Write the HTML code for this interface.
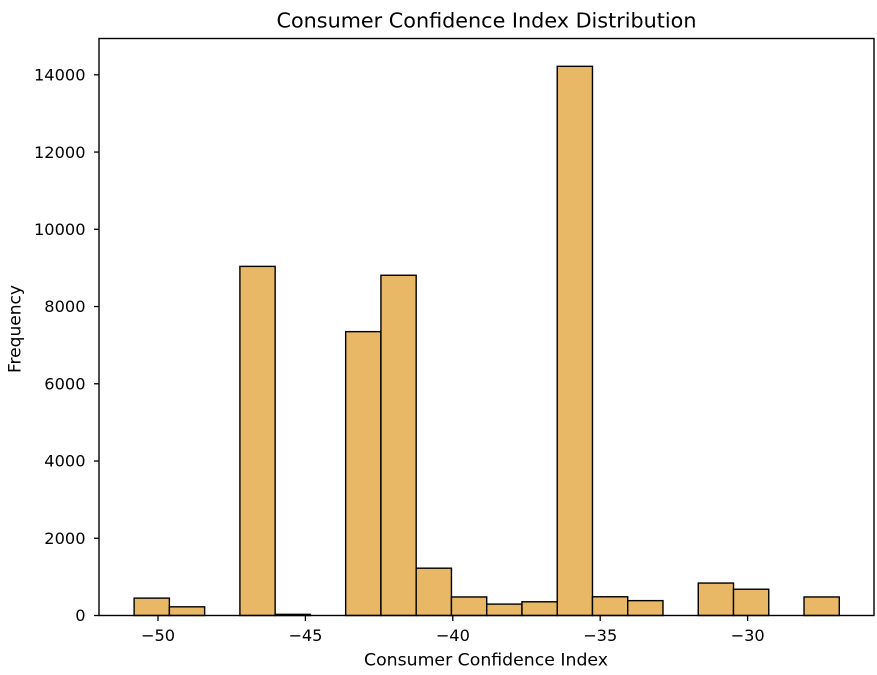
<!DOCTYPE html>
<html lang="en">
<head>
<meta charset="utf-8">
<title>Consumer Confidence Index Distribution</title>
<style>
html,body{margin:0;padding:0;background:#fff;width:877px;height:675px;overflow:hidden}
svg{display:block;font-family:"DejaVu Sans","Liberation Sans",sans-serif;fill:#000;filter:blur(0.3px)}
</style>
</head>
<body>
<svg id="chart" xmlns="http://www.w3.org/2000/svg" width="877" height="675" viewBox="0 0 877 675">
<rect x="0" y="0" width="877" height="675" fill="#ffffff"/>
<text x="486.5" y="27.5" font-size="20.8" text-anchor="middle" textLength="420" lengthAdjust="spacingAndGlyphs">Consumer Confidence Index Distribution</text>
<text x="486" y="665.5" font-size="17.2" text-anchor="middle" textLength="244" lengthAdjust="spacingAndGlyphs">Consumer Confidence Index</text>
<text x="0" y="0" font-size="17.2" text-anchor="middle" textLength="88" lengthAdjust="spacingAndGlyphs" transform="translate(20.7 329) rotate(-90)">Frequency</text>
<g id="bars"></g>
<g id="x-ticks"></g>
<g id="y-ticks"></g>
<rect x="99" y="38.5" width="775" height="577" fill="none" stroke="#000000" stroke-width="1.4"/>
</svg>
<script>
const binStart = -50.81;
const binWidth = 1.196;
const binCounts = [450, 225, 0, 9040, 30, 0, 7350, 8810, 1225, 480, 295, 355, 14220, 485, 385, 0, 840, 680, 0, 480];
const xTickValues = [-50, -45, -40, -35, -30];
const xTickLabels = ['\u221250', '\u221245', '\u221240', '\u221235', '\u221230'];
const yTickValues = [0, 2000, 4000, 6000, 8000, 10000, 12000, 14000];
const yTickLabels = ['0', '2000', '4000', '6000', '8000', '10000', '12000', '14000'];

const NS = 'http://www.w3.org/2000/svg';
function xScale(v) { return 158 + (v + 50) * 29.48; }
function yScale(v) { return 615.5 - v * 0.03862; }

const barsGroup = document.getElementById('bars');
binCounts.forEach(function (count, i) {
  if (count <= 0) return;
  const x0 = xScale(binStart + i * binWidth);
  const x1 = xScale(binStart + (i + 1) * binWidth);
  const rect = document.createElementNS(NS, 'rect');
  
  
  rect.setAttribute('x', x0);
  rect.setAttribute('y', yScale(count));
  rect.setAttribute('width', x1 - x0);
  rect.setAttribute('height', yScale(0) - yScale(count));
  rect.setAttribute('fill', '#e8b866');
  rect.setAttribute('stroke', '#000000');
  rect.setAttribute('stroke-width', '1.4');
  barsGroup.appendChild(rect);
});

const xTicksGroup = document.getElementById('x-ticks');
xTickValues.forEach(function (value, i) {
  const px = xScale(value);
  const mark = document.createElementNS(NS, 'line');
  
  
  mark.setAttribute('x1', px);
  mark.setAttribute('x2', px);
  mark.setAttribute('y1', 615.5);
  mark.setAttribute('y2', 621);
  mark.setAttribute('stroke', '#000000');
  mark.setAttribute('stroke-width', '1.3');
  xTicksGroup.appendChild(mark);
  const label = document.createElementNS(NS, 'text');
  
  
  label.setAttribute('x', px);
  label.setAttribute('y', 641);
  label.setAttribute('font-size', '16.2');
  label.setAttribute('text-anchor', 'middle');
  label.textContent = xTickLabels[i];
  xTicksGroup.appendChild(label);
});

const yTicksGroup = document.getElementById('y-ticks');
yTickValues.forEach(function (value, i) {
  const py = yScale(value);
  const mark = document.createElementNS(NS, 'line');
  
  
  mark.setAttribute('x1', 94);
  mark.setAttribute('x2', 99);
  mark.setAttribute('y1', py);
  mark.setAttribute('y2', py);
  mark.setAttribute('stroke', '#000000');
  mark.setAttribute('stroke-width', '1.3');
  yTicksGroup.appendChild(mark);
  const label = document.createElementNS(NS, 'text');
  
  
  label.setAttribute('x', 85.5);
  label.setAttribute('y', py + 5.7);
  label.setAttribute('font-size', '16.2');
  label.setAttribute('text-anchor', 'end');
  label.textContent = yTickLabels[i];
  yTicksGroup.appendChild(label);
});
</script>
</body>
</html>
